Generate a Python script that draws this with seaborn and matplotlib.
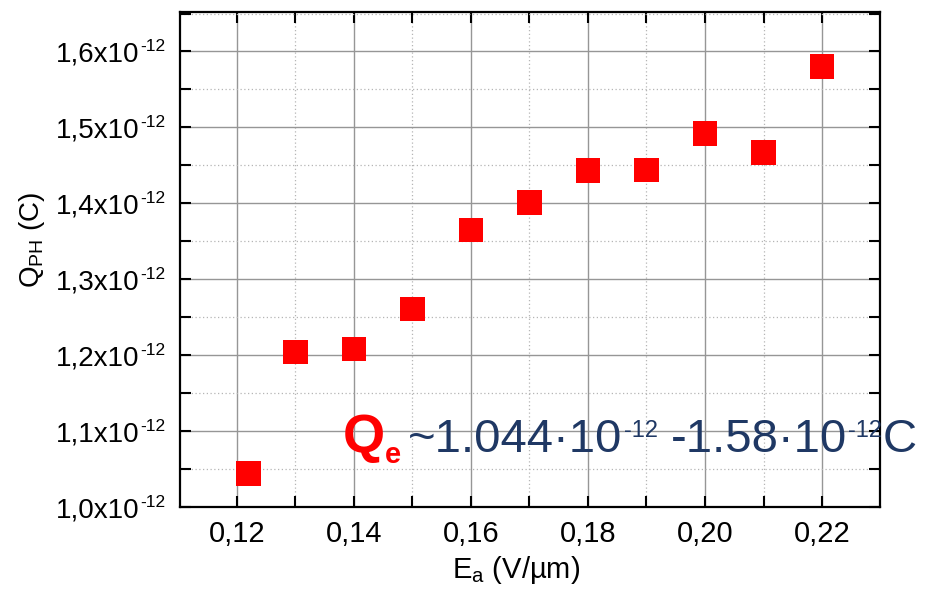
import matplotlib
matplotlib.use("Agg")
import matplotlib.pyplot as plt
import pandas as pd
import seaborn as sns
from matplotlib.ticker import FixedLocator, FixedFormatter, MultipleLocator

# Applied field (V/µm) and photo-generated charge (C)
field = [0.122, 0.13, 0.14, 0.15, 0.16, 0.17, 0.18, 0.19, 0.20, 0.21, 0.22]
charge = [1.044e-12, 1.204e-12, 1.208e-12, 1.261e-12, 1.365e-12, 1.401e-12,
          1.443e-12, 1.444e-12, 1.492e-12, 1.467e-12, 1.580e-12]

x_ticks = [0.12, 0.14, 0.16, 0.18, 0.20, 0.22]
x_tick_labels = ["0,12", "0,14", "0,16", "0,18", "0,20", "0,22"]
y_ticks = [1.0e-12, 1.1e-12, 1.2e-12, 1.3e-12, 1.4e-12, 1.5e-12, 1.6e-12]
y_tick_mantissas = ["1,0x10", "1,1x10", "1,2x10", "1,3x10", "1,4x10",
                    "1,5x10", "1,6x10"]
y_tick_exponent = "-12"

q_min, q_max = 1.044, 1.58
NAVY = "#1f3864"
RED = "#ff0000"

sns.set_theme(style="ticks")
plt.rcParams["font.family"] = ["Liberation Sans", "DejaVu Sans"]
plt.rcParams["mathtext.fontset"] = "custom"
plt.rcParams["mathtext.rm"] = "Liberation Sans"
plt.rcParams["mathtext.it"] = "Liberation Sans"
plt.rcParams["mathtext.bf"] = "Liberation Sans:bold"
plt.rcParams["mathtext.default"] = "regular"
for key in ("text.color", "axes.labelcolor", "xtick.color", "ytick.color"):
    plt.rcParams[key] = "black"

DPI = 100
fig = plt.figure(figsize=(9.33, 5.91), dpi=DPI)
ax = fig.add_axes([0.1929, 0.1421, 0.7503, 0.8376])

df = pd.DataFrame({"E": field, "Q": charge})
sns.scatterplot(data=df, x="E", y="Q", marker="s", s=310, color=RED,
                edgecolor="none", linewidth=0, ax=ax, zorder=3, legend=False)

ax.set_xlim(0.1103, 0.2299)
ax.set_ylim(1.0e-12, 1.652e-12)

ax.xaxis.set_major_locator(FixedLocator(x_ticks))
ax.xaxis.set_major_formatter(FixedFormatter(x_tick_labels))
ax.xaxis.set_minor_locator(MultipleLocator(0.01))
ax.yaxis.set_major_locator(FixedLocator(y_ticks))
ax.yaxis.set_major_formatter(FixedFormatter(y_tick_mantissas))
ax.yaxis.set_minor_locator(MultipleLocator(0.05e-12))

ax.set_axisbelow(True)
ax.grid(which="major", color="#969696", linewidth=1.0)
ax.grid(which="minor", color="#b5b5b5", linewidth=0.9, linestyle=(0, (1, 2)))

for side in ax.spines.values():
    side.set_visible(True)
    side.set_color("black")
    side.set_linewidth(1.6)

ax.tick_params(which="both", direction="in", top=True, right=True,
               width=1.5, color="black", length=8)
ax.tick_params(axis="x", which="major", labelsize=21, pad=9)
ax.tick_params(axis="y", which="major", labelsize=20, pad=29)

ax.set_xlabel("E$_a$ (V/µm)", fontsize=21)
ax.xaxis.set_label_coords(0.48, -0.095)
ax.set_ylabel("Q$_{PH}$ (C)", fontsize=20)
ax.yaxis.set_label_coords(-0.19, 0.54)

fig.canvas.draw()
renderer = fig.canvas.get_renderer()
W, H = fig.bbox.width, fig.bbox.height


def px(points):
    return points * DPI / 72.0


# exponent of every y tick label, set as a raised small text
for lab in ax.get_yticklabels():
    if not lab.get_text():
        continue
    bb = lab.get_window_extent(renderer)
    fig.text((bb.x1 + 1) / W, (bb.y1 + 2) / H, y_tick_exponent,
             fontsize=12.5, ha="left", va="top", color="black")


def write_run(x0, y0, parts):
    """Lay out text pieces left to right from a display-space baseline."""
    cur = x0
    for text, size, color, weight, rise, gap in parts:
        cur += gap
        t = fig.text(cur / W, (y0 + px(rise)) / H, text, fontsize=size,
                     color=color, fontweight=weight, ha="left", va="baseline")
        cur = t.get_window_extent(renderer).x1


bx, by = ax.transData.transform((0.13815, 1.0724e-12))
write_run(bx, by, [
    ("Q", 39, RED, "bold", 0, 0),
    ("e", 21, RED, "bold", -8, 0),
    ("~%.3f·10" % q_min, 34, NAVY, "normal", 0, 7),
    ("-12", 17, NAVY, "normal", 11, 1),
    ("-%.2f·10" % q_max, 34, NAVY, "normal", 0, 13),
    ("-12", 17, NAVY, "normal", 11, 1),
    ("C", 34, NAVY, "normal", 0, 1),
])

fig.savefig("out.png", dpi=DPI)
